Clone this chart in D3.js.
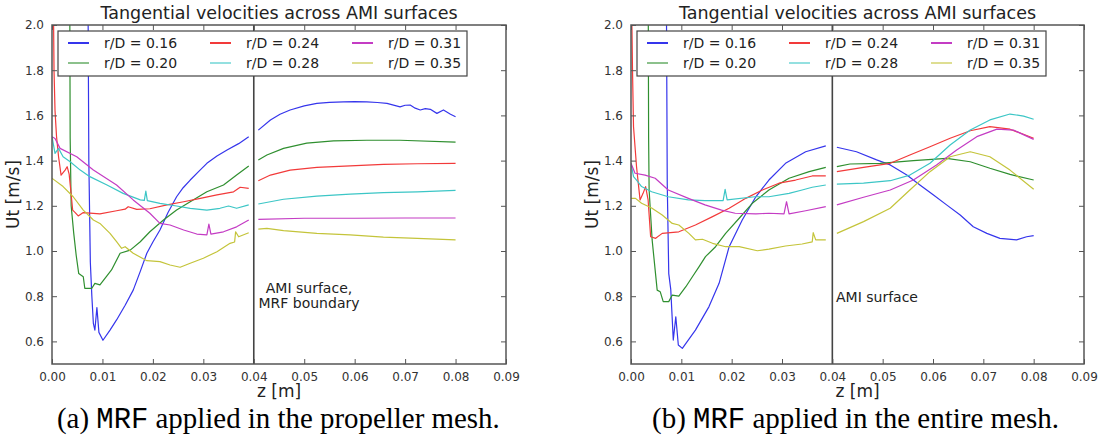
<!DOCTYPE html>
<html>
<head>
<meta charset="utf-8">
<script src="https://cdn.jsdelivr.net/npm/d3@7"></script>
<style>
  body { margin: 0; background: #fff; }
  svg { display: block; font-family: "DejaVu Sans", sans-serif; }
  .tick text { fill: #333; }
  .mono { font-family: "Liberation Mono", "Courier New", monospace; }
  .serif { font-family: "Liberation Serif", "Times New Roman", serif; }
</style>
</head>
<body>
<div id="chart"></div>
<script>
// Tangential velocities across AMI surfaces, two panels (MRF in propeller mesh / entire mesh)

const LABELS = ["r/D = 0.16", "r/D = 0.20", "r/D = 0.24", "r/D = 0.28", "r/D = 0.31", "r/D = 0.35"];
const COLORS = ["#3535ec", "#2f8f2f", "#f23a3a", "#3cc6c6", "#c43cc4", "#c4c43a"];
const X_TICKS = [0, 0.01, 0.02, 0.03, 0.04, 0.05, 0.06, 0.07, 0.08, 0.09];
const Y_TICKS = [0.6, 0.8, 1.0, 1.2, 1.4, 1.6, 1.8, 2.0];
const AMI_Z = 0.04;

// panel (a): MRF applied in the propeller mesh. null = break at the AMI surface
const a16 = [[0.0071,2.3],[0.0073,1.4],[0.0076,0.95],[0.0079,0.80],[0.0082,0.68],[0.0085,0.65],[0.0089,0.75],[0.0093,0.64],[0.0101,0.605],[0.0115,0.65],[0.0128,0.695],[0.0145,0.76],[0.0161,0.827],[0.0175,0.91],[0.0188,0.99],[0.0200,1.04],[0.0214,1.093],[0.0230,1.17],[0.0247,1.24],[0.0260,1.28],[0.0274,1.314],[0.0290,1.35],[0.0307,1.388],[0.0327,1.42],[0.0347,1.447],[0.0370,1.475],[0.0390,1.506],
  null,[0.0409,1.535],[0.0433,1.58],[0.0452,1.605],[0.0472,1.624],[0.0500,1.642],[0.0525,1.653],[0.0550,1.658],[0.0578,1.66],[0.0600,1.661],[0.0624,1.66],[0.0645,1.657],[0.0664,1.653],[0.0690,1.638],[0.0700,1.645],[0.0710,1.646],[0.0720,1.632],[0.0730,1.624],[0.0740,1.630],[0.0750,1.627],[0.0763,1.609],[0.0776,1.624],[0.0790,1.605],[0.0800,1.594]];
const a20 = [[0.0035,2.3],[0.0036,1.5],[0.0038,1.2],[0.0043,1.08],[0.0048,0.98],[0.0053,0.90],[0.0062,0.886],[0.0065,0.835],[0.0079,0.835],[0.0085,0.857],[0.0095,0.85],[0.0105,0.879],[0.0118,0.916],[0.0135,0.99],[0.0155,1.004],[0.0175,1.041],[0.0194,1.085],[0.0221,1.137],[0.0247,1.181],[0.0274,1.218],[0.0307,1.262],[0.0340,1.292],[0.0366,1.336],[0.0390,1.376],
  null,[0.0409,1.403],[0.0426,1.425],[0.0459,1.454],[0.0505,1.477],[0.0558,1.487],[0.0624,1.49],[0.0690,1.49],[0.0800,1.482]];
const a24 = [[0.0002,2.3],[0.0004,1.8],[0.0006,1.62],[0.0009,1.506],[0.0013,1.417],[0.0018,1.336],[0.0026,1.358],[0.0030,1.373],[0.0034,1.34],[0.0038,1.25],[0.0041,1.181],[0.0046,1.17],[0.0052,1.155],[0.0062,1.17],[0.0095,1.164],[0.0128,1.178],[0.0145,1.185],[0.0151,1.196],[0.0168,1.184],[0.0194,1.187],[0.0228,1.204],[0.0261,1.218],[0.0294,1.233],[0.0327,1.248],[0.0360,1.262],[0.0373,1.282],[0.0390,1.277],
  null,[0.0409,1.311],[0.0433,1.336],[0.0472,1.358],[0.0525,1.37],[0.0591,1.377],[0.0657,1.383],[0.0724,1.386],[0.0800,1.388]];
const a28 = [[0.0,1.506],[0.0006,1.432],[0.0013,1.454],[0.0022,1.417],[0.0036,1.395],[0.0056,1.358],[0.0075,1.329],[0.0109,1.292],[0.0141,1.255],[0.0175,1.226],[0.0183,1.224],[0.0186,1.265],[0.0189,1.223],[0.0214,1.211],[0.0247,1.199],[0.0274,1.189],[0.0307,1.181],[0.0333,1.189],[0.0350,1.199],[0.0366,1.189],[0.0390,1.204],
  null,[0.0409,1.208],[0.0459,1.229],[0.0525,1.243],[0.0591,1.252],[0.0657,1.258],[0.0724,1.262],[0.0800,1.268]];
const a31 = [[0.0,1.506],[0.0006,1.498],[0.0016,1.454],[0.0049,1.417],[0.0082,1.358],[0.0128,1.292],[0.0161,1.226],[0.0194,1.167],[0.0214,1.122],[0.0234,1.115],[0.0261,1.093],[0.0287,1.075],[0.0307,1.071],[0.0311,1.119],[0.0315,1.075],[0.0340,1.085],[0.0366,1.107],[0.0390,1.137],
  null,[0.0409,1.14],[0.0500,1.145],[0.0600,1.145],[0.0700,1.146],[0.0800,1.146]];
const a35 = [[0.0,1.322],[0.0003,1.317],[0.0022,1.285],[0.0042,1.24],[0.0062,1.181],[0.0082,1.137],[0.0095,1.122],[0.0115,1.078],[0.0128,1.041],[0.0138,1.012],[0.0145,1.019],[0.0161,0.99],[0.0188,0.957],[0.0214,0.953],[0.0234,0.938],[0.0254,0.928],[0.0274,0.946],[0.0300,0.968],[0.0327,0.997],[0.0353,1.034],[0.0362,1.04],[0.0364,1.085],[0.0370,1.063],[0.0390,1.081],
  null,[0.0409,1.097],[0.0426,1.1],[0.0459,1.09],[0.0525,1.078],[0.0591,1.071],[0.0657,1.061],[0.0724,1.056],[0.0800,1.049]];

// panel (b): MRF applied in the entire mesh
const b16 = [[0.0070,2.3],[0.0072,1.3],[0.0075,0.9],[0.0079,0.83],[0.0084,0.606],[0.0089,0.709],[0.0094,0.584],[0.0102,0.569],[0.0128,0.65],[0.0155,0.754],[0.0175,0.857],[0.0195,1.019],[0.0221,1.137],[0.0248,1.24],[0.0274,1.314],[0.0307,1.388],[0.0347,1.439],[0.0387,1.465],
  null,[0.0409,1.459],[0.0448,1.439],[0.0488,1.403],[0.0515,1.381],[0.0548,1.336],[0.0574,1.292],[0.0601,1.248],[0.0627,1.204],[0.0654,1.159],[0.0680,1.107],[0.0707,1.078],[0.0733,1.056],[0.0766,1.049],[0.0786,1.063],[0.0800,1.068]];
const b20 = [[0.0034,2.3],[0.0035,1.5],[0.0036,1.27],[0.0042,1.049],[0.0052,0.827],[0.0058,0.82],[0.0064,0.776],[0.0075,0.776],[0.0082,0.805],[0.0095,0.80],[0.0109,0.842],[0.0122,0.886],[0.0135,0.93],[0.0148,0.975],[0.0168,1.019],[0.0188,1.078],[0.0215,1.145],[0.0241,1.211],[0.0274,1.27],[0.0314,1.322],[0.0354,1.351],[0.0387,1.37],
  null,[0.0409,1.373],[0.0435,1.385],[0.0495,1.388],[0.0561,1.40],[0.0627,1.41],[0.0674,1.395],[0.0713,1.366],[0.0753,1.339],[0.0800,1.314]];
const b24 = [[0.0,2.3],[0.0003,1.8],[0.0005,1.55],[0.0011,1.373],[0.0018,1.226],[0.0024,1.255],[0.0029,1.285],[0.0034,1.226],[0.0039,1.063],[0.0049,1.056],[0.0062,1.078],[0.0095,1.085],[0.0128,1.115],[0.0162,1.152],[0.0195,1.189],[0.0228,1.233],[0.0261,1.27],[0.0294,1.30],[0.0327,1.314],[0.0360,1.332],[0.0387,1.332],
  null,[0.0409,1.351],[0.0462,1.37],[0.0515,1.388],[0.0554,1.425],[0.0594,1.461],[0.0634,1.499],[0.0674,1.532],[0.0713,1.55],[0.0753,1.539],[0.0800,1.499]];
const b28 = [[0.0,1.388],[0.0005,1.329],[0.0011,1.314],[0.0021,1.285],[0.0041,1.262],[0.0074,1.24],[0.0114,1.226],[0.0147,1.223],[0.0183,1.223],[0.0187,1.273],[0.0191,1.226],[0.0246,1.24],[0.0274,1.24],[0.0314,1.255],[0.0340,1.27],[0.0360,1.282],[0.0387,1.292],
  null,[0.0409,1.296],[0.0462,1.30],[0.0515,1.311],[0.0554,1.336],[0.0594,1.388],[0.0634,1.469],[0.0674,1.535],[0.0713,1.58],[0.0753,1.606],[0.0780,1.597],[0.0800,1.583]];
const b31 = [[0.0,1.388],[0.0008,1.344],[0.0028,1.336],[0.0048,1.322],[0.0074,1.27],[0.0114,1.233],[0.0147,1.204],[0.0180,1.181],[0.0207,1.167],[0.0248,1.164],[0.0274,1.167],[0.0304,1.164],[0.0309,1.218],[0.0314,1.164],[0.0347,1.178],[0.0387,1.196],
  null,[0.0409,1.204],[0.0462,1.238],[0.0515,1.27],[0.0561,1.314],[0.0607,1.381],[0.0647,1.447],[0.0687,1.506],[0.0727,1.539],[0.0760,1.535],[0.0800,1.494]];
const b35 = [[0.0,1.233],[0.0009,1.233],[0.0021,1.211],[0.0041,1.19],[0.0062,1.159],[0.0082,1.122],[0.0095,1.115],[0.0115,1.078],[0.0128,1.049],[0.0142,1.052],[0.0162,1.034],[0.0188,1.019],[0.0215,1.019],[0.0251,1.001],[0.0274,1.008],[0.0307,1.022],[0.0340,1.031],[0.0360,1.04],[0.0362,1.081],[0.0367,1.049],[0.0387,1.049],
  null,[0.0409,1.078],[0.0462,1.13],[0.0515,1.189],[0.0554,1.27],[0.0594,1.351],[0.0634,1.417],[0.0674,1.439],[0.0713,1.417],[0.0753,1.358],[0.0800,1.273]];

const W = 1106, H = 437;
const svg = d3.select("#chart").append("svg").attr("width", W).attr("height", H);

const panels = [
  { id: "a", left: 52, right: 506, series: [a16, a20, a24, a28, a31, a35],
    caption: ["(a) ", "MRF", " applied in the propeller mesh."], capX: 57, capW: 443,
    note: ["AMI surface,", "MRF boundary"], noteX: 309, noteAnchor: "middle" },
  { id: "b", left: 631, right: 1084, series: [b16, b20, b24, b28, b31, b35],
    caption: ["(b) ", "MRF", " applied in the entire mesh."], capX: 652, capW: 407,
    note: ["AMI surface"], noteX: 836, noteAnchor: "start" }
];
const plotTop = 25, plotBottom = 364;

panels.forEach(p => {
  const x = d3.scaleLinear().domain([0, 0.09]).range([p.left, p.right]);
  const y = d3.scaleLinear().domain([0.5, 2.0]).range([plotBottom, plotTop]);
  const g = svg.append("g");

  g.append("clipPath").attr("id", "clip-" + p.id)
    .append("rect").attr("x", p.left).attr("y", plotTop)
    .attr("width", p.right - p.left).attr("height", plotBottom - plotTop);

  const line = d3.line().defined(d => d != null).x(d => x(d[0])).y(d => y(d[1]));
  const plot = g.append("g").attr("clip-path", `url(#clip-${p.id})`);
  p.series.forEach((s, i) => {
    plot.append("path").attr("d", line(s)).attr("fill", "none")
      .attr("stroke", COLORS[i]).attr("stroke-width", 1.2).attr("stroke-linejoin", "round");
  });

  // AMI surface marker
  g.append("line").attr("x1", x(AMI_Z)).attr("x2", x(AMI_Z)).attr("y1", plotTop).attr("y2", plotBottom)
    .attr("stroke", "#444").attr("stroke-width", 1.6);

  // axes, ticks inward on all four sides
  const fx = d3.format(".2f"), fy = d3.format(".1f");
  g.append("g").attr("transform", `translate(0,${plotBottom})`)
    .call(d3.axisBottom(x).tickValues(X_TICKS).tickFormat(fx).tickSize(-5).tickPadding(8));
  g.append("g").attr("transform", `translate(0,${plotTop})`)
    .call(d3.axisTop(x).tickValues(X_TICKS).tickFormat("").tickSize(-5));
  g.append("g").attr("transform", `translate(${p.left},0)`)
    .call(d3.axisLeft(y).tickValues(Y_TICKS).tickFormat(fy).tickSize(-5).tickPadding(8));
  g.append("g").attr("transform", `translate(${p.right},0)`)
    .call(d3.axisRight(y).tickValues(Y_TICKS).tickFormat("").tickSize(-5));
  g.selectAll(".domain").remove();
  g.selectAll(".tick line").attr("stroke", "#555");
  g.selectAll(".tick text").attr("font-size", 12).attr("font-family", "DejaVu Sans");

  g.append("rect").attr("x", p.left).attr("y", plotTop)
    .attr("width", p.right - p.left).attr("height", plotBottom - plotTop)
    .attr("fill", "none").attr("stroke", "#555").attr("stroke-width", 1.5);

  // title and axis labels
  const cx = (p.left + p.right) / 2;
  g.append("text").attr("x", cx).attr("y", 19).attr("text-anchor", "middle")
    .attr("font-size", 17.5).attr("fill", "#222").text("Tangential velocities across AMI surfaces");
  g.append("text").attr("x", cx).attr("y", 397).attr("text-anchor", "middle")
    .attr("font-size", 17).attr("fill", "#222").text("z [m]");
  g.append("text").attr("transform", `translate(${p.left - 33},${(plotTop + plotBottom) / 2}) rotate(-90)`)
    .attr("text-anchor", "middle").attr("font-size", 17).attr("fill", "#222").text("Ut [m/s]");

  // annotation
  const note = g.append("text").attr("font-size", 14).attr("fill", "#222")
    .attr("text-anchor", p.noteAnchor);
  p.note.forEach((t, i) => note.append("tspan").attr("x", p.noteX).attr("y", (p.note.length > 1 ? 293 : 302) + i * 15).text(t));

  // legend, 3 columns x 2 rows, column-major
  const lg = g.append("g").attr("transform", `translate(${p.left + 6},31)`);
  lg.append("rect").attr("width", 409).attr("height", 45)
    .attr("fill", "#fff").attr("stroke", "#444").attr("stroke-width", 1.2);
  LABELS.forEach((lab, i) => {
    const col = Math.floor(i / 2), row = i % 2;
    const ox = 10 + col * 142, oy = 12 + row * 20;
    lg.append("line").attr("x1", ox).attr("x2", ox + 21).attr("y1", oy).attr("y2", oy)
      .attr("stroke", COLORS[i]).attr("stroke-width", row === 0 ? 2 : 1.1);
    lg.append("text").attr("x", ox + 36).attr("y", oy + 5).attr("font-size", 14)
      .attr("fill", "#222").text(lab);
  });

  // caption under the panel
  const cap = svg.append("text").attr("class", "serif").attr("x", p.capX).attr("y", 428)
    .attr("font-size", 22).attr("fill", "#000");
  cap.append("tspan").text(p.caption[0]);
  cap.append("tspan").attr("class", "mono").text(p.caption[1]);
  cap.append("tspan").text(p.caption[2]);
  const fs = 22 * p.capW / cap.node().getComputedTextLength();
  cap.attr("font-size", fs);
  cap.selectAll("tspan").attr("font-size", fs);
});
</script>
</body>
</html>
